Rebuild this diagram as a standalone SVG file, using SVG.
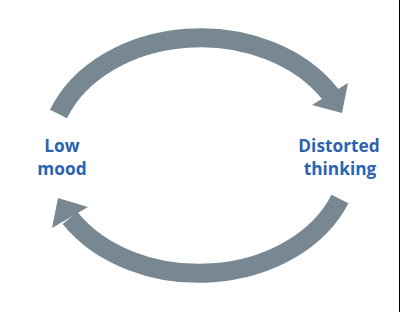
<svg xmlns="http://www.w3.org/2000/svg" width="400" height="312" viewBox="0 0 400 312">
<style>
.arc{fill:none;stroke:#778892;stroke-width:19;stroke-linecap:butt}
.head{fill:#778892}
.lbl{font-family:"Open Sans","Noto Sans","Liberation Sans",sans-serif;font-weight:bold;font-size:17.3px;fill:#2c63ae;text-anchor:middle}
</style>
<rect width="400" height="312" fill="#ffffff"/>
<line x1="399.5" y1="0" x2="399.5" y2="312" stroke="#000000" stroke-width="1"/>
<g id="connectors">
<path class="arc" d="M58.5,114 A152,118 0 0 1 331,95"/>
<polygon class="head" points="348,83 342,113 312,105"/>
<path class="arc" d="M340,199 A152,118 0 0 1 70,218"/>
<polygon class="head" points="58,198 52,228 88,207"/>
</g>
<g id="low-mood">
<text class="lbl" x="62" y="152">Low</text>
<text class="lbl" x="62" y="175">mood</text>
</g>
<g id="distorted-thinking">
<text class="lbl" x="339" y="152">Distorted</text>
<text class="lbl" x="340" y="175">thinking</text>
</g>
</svg>
